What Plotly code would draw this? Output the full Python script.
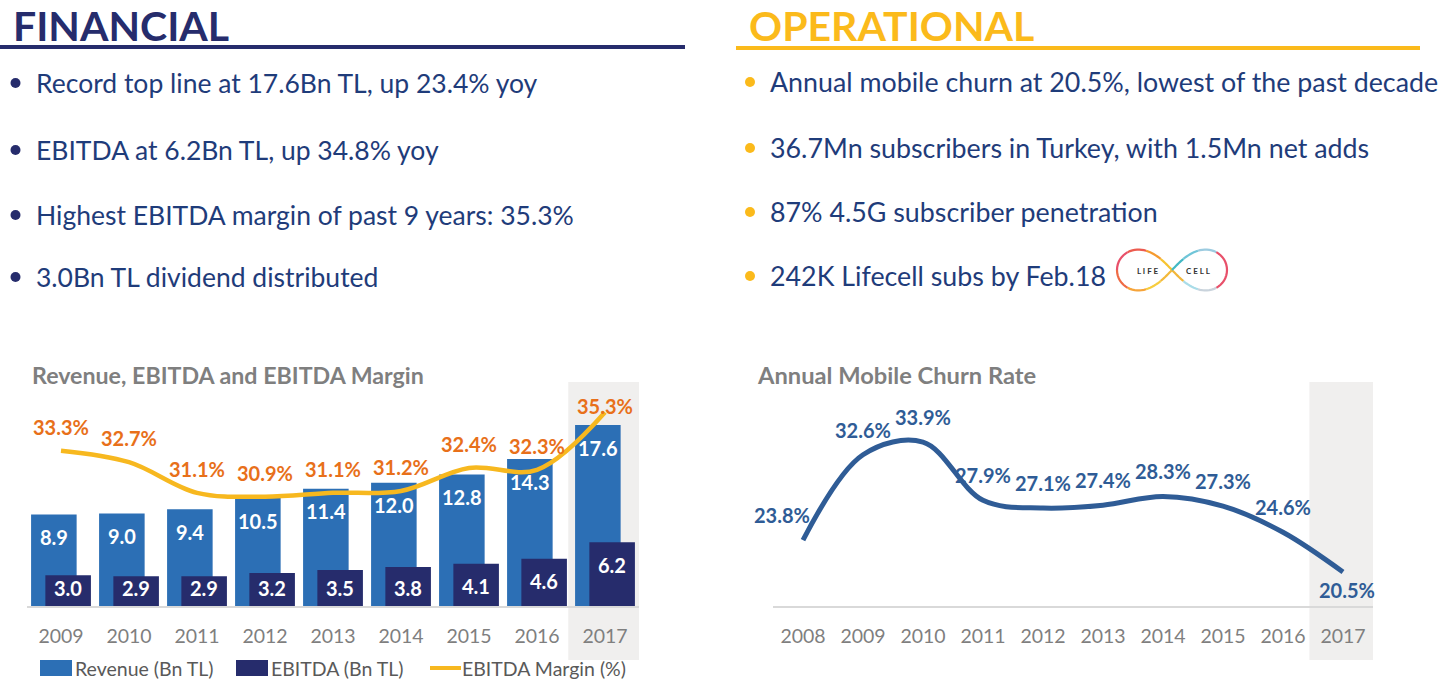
import math
import plotly.graph_objects as go

W, H = 1439, 682

# ---------------- data ----------------
fin_years = ["2009", "2010", "2011", "2012", "2013", "2014", "2015", "2016", "2017"]
revenue = [8.9, 9.0, 9.4, 10.5, 11.4, 12.0, 12.8, 14.3, 17.6]
ebitda = [3.0, 2.9, 2.9, 3.2, 3.5, 3.8, 4.1, 4.6, 6.2]
ebitda_margin = [33.3, 32.7, 31.1, 30.9, 31.1, 31.2, 32.4, 32.3, 35.3]

churn_years = ["2008", "2009", "2010", "2011", "2012", "2013", "2014", "2015", "2016", "2017"]
churn_rate = [23.8, 32.6, 33.9, 27.9, 27.1, 27.4, 28.3, 27.3, 24.6, 20.5]

fin_bullets = [
    "Record top line at 17.6Bn TL, up 23.4% yoy",
    "EBITDA at 6.2Bn TL, up 34.8% yoy",
    "Highest EBITDA margin of past 9 years: 35.3%",
    "3.0Bn TL dividend distributed",
]
ops_bullets = [
    "Annual mobile churn at 20.5%, lowest of the past decade",
    "36.7Mn subscribers in Turkey, with 1.5Mn net adds",
    "87% 4.5G subscriber penetration",
    "242K Lifecell subs by Feb.18",
]
legend_names = ["Revenue (Bn TL)", "EBITDA (Bn TL)", "EBITDA Margin (%)"]

# ---------------- styles ----------------
FONT = "Lato"
NAVY = "#262C6C"
TEXT_BLUE = "#1F3C7A"
GOLD = "#FBBA1B"
REV_C = "#2C6FB5"
EBITDA_C = "#262C6C"
MARGIN_C = "#F7B81F"
ORANGE = "#E8701A"
CHURN_C = "#2F5C96"
GRAY = "#7F7F7F"
HILITE = "#F0EFEE"


def px(x):
    return x / W


def py(y):
    return 1 - y / H


fig = go.Figure()

fig.add_trace(go.Bar(x=fin_years, y=revenue, width=0.67, offset=-0.44,
                     marker=dict(color=REV_C, line=dict(width=0)),
                     name=legend_names[0], xaxis="x", yaxis="y"))
fig.add_trace(go.Bar(x=fin_years, y=ebitda, width=0.67, offset=-0.23,
                     marker=dict(color=EBITDA_C, line=dict(width=0)),
                     name=legend_names[1], xaxis="x", yaxis="y"))
fig.add_trace(go.Scatter(x=fin_years, y=ebitda_margin, mode="lines",
                         line=dict(color=MARGIN_C, width=4.5, shape="spline", smoothing=1.0),
                         name=legend_names[2], xaxis="x", yaxis="y2"))
fig.add_trace(go.Scatter(x=churn_years, y=churn_rate, mode="lines",
                         line=dict(color=CHURN_C, width=5, shape="spline", smoothing=1.0),
                         name="Annual Mobile Churn Rate", xaxis="x2", yaxis="y3"))

annotations = []
shapes = []

# headers
annotations.append(dict(text="FINANCIAL", x=px(12), y=1, xref="paper", yref="paper",
                        xanchor="left", yanchor="top", showarrow=False, borderpad=0,
                        font=dict(family=FONT, size=41, color=NAVY, weight="bold")))
annotations.append(dict(text="OPERATIONAL", x=px(748), y=1, xref="paper", yref="paper",
                        xanchor="left", yanchor="top", showarrow=False, borderpad=0,
                        font=dict(family=FONT, size=41, color=GOLD, weight="bold")))
shapes.append(dict(type="line", xref="paper", yref="paper", x0=px(0), x1=px(685),
                   y0=py(47), y1=py(47), line=dict(color=NAVY, width=4)))
shapes.append(dict(type="line", xref="paper", yref="paper", x0=px(736), x1=px(1420),
                   y0=py(48), y1=py(48), line=dict(color=GOLD, width=4)))

# bullets
fin_bullet_y = [83, 150, 215, 277]
ops_bullet_y = [82, 148, 212, 276]
for txt, yy in zip(fin_bullets, fin_bullet_y):
    shapes.append(dict(type="circle", xref="paper", yref="paper",
                       x0=px(10.5), x1=px(20.5), y0=py(yy + 5), y1=py(yy - 5),
                       fillcolor=NAVY, line=dict(width=0)))
    annotations.append(dict(text=txt, x=px(34), y=py(yy), xref="paper", yref="paper",
                            xanchor="left", yanchor="middle", showarrow=False,
                            font=dict(family=FONT, size=26.5, color=TEXT_BLUE)))
for txt, yy in zip(ops_bullets, ops_bullet_y):
    shapes.append(dict(type="circle", xref="paper", yref="paper",
                       x0=px(745), x1=px(755), y0=py(yy + 5), y1=py(yy - 5),
                       fillcolor=GOLD, line=dict(width=0)))
    annotations.append(dict(text=txt, x=px(768), y=py(yy), xref="paper", yref="paper",
                            xanchor="left", yanchor="middle", showarrow=False,
                            font=dict(family=FONT, size=26.8, color=TEXT_BLUE)))

# lifecell logo (infinity loop)
cx, cy, a = 1172, 270, 55
logo_cols = ["#E8506A", "#C9D3DC", "#A9DCE8", "#F2B63A",
             "#F7C431", "#F59A2E", "#EC5B4F", "#E8506A",
             "#EF6B45", "#F6A43A", "#F7CD3E", "#F3B93A",
             "#43B9C4", "#6FC5D8", "#9CCBE0", "#E8506A"]
nseg = len(logo_cols)
for k, col in enumerate(logo_cols):
    pts = []
    for j in range(9):
        t = 2 * math.pi * (k + j / 8) / nseg
        d = 1 + math.sin(t) ** 2
        xx = cx + a * math.cos(t) / d
        yy = cy + 1.05 * a * math.sin(t) * math.cos(t) / d
        pts.append((px(xx), py(yy)))
    path = "M " + " L ".join(f"{p[0]:.5f},{p[1]:.5f}" for p in pts)
    shapes.append(dict(type="path", xref="paper", yref="paper", path=path,
                       line=dict(color=col, width=2.2)))
for txt, xx in [("L I F E", 1147), ("C E L L", 1198)]:
    annotations.append(dict(text=txt, x=px(xx), y=py(271), xref="paper", yref="paper",
                            xanchor="center", yanchor="middle", showarrow=False,
                            font=dict(family=FONT, size=8, color="#333333", weight="bold")))

# chart titles
annotations.append(dict(text="Revenue, EBITDA and EBITDA Margin", x=px(30), y=py(375),
                        xref="paper", yref="paper", xanchor="left", yanchor="middle",
                        showarrow=False, font=dict(family=FONT, size=23.2, color=GRAY, weight="bold")))
annotations.append(dict(text="Annual Mobile Churn Rate", x=px(755), y=py(375),
                        xref="paper", yref="paper", xanchor="left", yanchor="middle",
                        showarrow=False, font=dict(family=FONT, size=23.7, color=GRAY, weight="bold")))

# highlight of 2017
shapes.append(dict(type="rect", xref="x", yref="paper", x0=7.46, x1=8.5,
                   y0=py(660), y1=py(382), fillcolor=HILITE, line=dict(width=0), layer="below"))
shapes.append(dict(type="rect", xref="x2", yref="paper", x0=8.44, x1=9.62,
                   y0=py(660), y1=py(382), fillcolor=HILITE, line=dict(width=0), layer="below"))

LABEL_SIZE = 20
# bar labels (x given as category index)
for i, v in enumerate(revenue):
    annotations.append(dict(text=f"{v:.1f}", x=i, y=v - 2.2, xref="x", yref="y",
                            xshift=-7, showarrow=False,
                            font=dict(family=FONT, size=LABEL_SIZE, color="white", weight="bold")))
for i, v in enumerate(ebitda):
    annotations.append(dict(text=f"{v:.1f}", x=i, y=max(v - 2.2, 1.78), xref="x", yref="y",
                            xshift=7, showarrow=False,
                            font=dict(family=FONT, size=LABEL_SIZE, color="white", weight="bold")))
for i, m in enumerate(ebitda_margin):
    annotations.append(dict(text=f"{m:.1f}%", x=i, y=m, xref="x", yref="y2",
                            yshift=24 if i < len(ebitda_margin) - 1 else 6, showarrow=False,
                            font=dict(family=FONT, size=LABEL_SIZE, color=ORANGE, weight="bold")))
for i, c in enumerate(churn_rate):
    last = i == len(churn_rate) - 1
    annotations.append(dict(text=f"{c:.1f}%", x=i, y=c, xref="x2", yref="y3",
                            yshift=-18 if last else 25, xshift=-21 if i == 0 else (4 if last else 0),
                            showarrow=False,
                            font=dict(family=FONT, size=LABEL_SIZE, color=CHURN_C, weight="bold")))

# manual legend
shapes.append(dict(type="rect", xref="paper", yref="paper", x0=px(40), x1=px(72),
                   y0=py(676), y1=py(660), fillcolor=REV_C, line=dict(width=0)))
shapes.append(dict(type="rect", xref="paper", yref="paper", x0=px(236), x1=px(268),
                   y0=py(676), y1=py(660), fillcolor=EBITDA_C, line=dict(width=0)))
shapes.append(dict(type="line", xref="paper", yref="paper", x0=px(430), x1=px(461),
                   y0=py(668), y1=py(668), line=dict(color=MARGIN_C, width=4)))
for txt, xx in zip(legend_names, [73, 269, 460]):
    annotations.append(dict(text=txt, x=px(xx), y=py(668), xref="paper", yref="paper",
                            xanchor="left", yanchor="middle", showarrow=False,
                            font=dict(family=FONT, size=19.5, color="#595959")))

axis_common = dict(showgrid=False, zeroline=False, ticks="", showline=True,
                   linecolor="#D9D9D9", linewidth=2,
                   tickfont=dict(family=FONT, size=19.5, color=GRAY),
                   ticklabelstandoff=12, fixedrange=True)
hidden_y = dict(showgrid=False, zeroline=False, showline=False, showticklabels=False,
                ticks="", fixedrange=True)

fig.update_layout(
    width=W, height=H, margin=dict(l=0, r=0, t=0, b=0),
    paper_bgcolor="white", plot_bgcolor="rgba(0,0,0,0)",
    barmode="overlay", showlegend=False,
    xaxis=dict(domain=[px(27), px(639)], anchor="y", type="category",
               range=[-0.5, 8.5], **axis_common),
    yaxis=dict(domain=[py(606), py(382)], range=[0, 21.79], **hidden_y),
    yaxis2=dict(overlaying="y", range=[25.2, 36.88], **hidden_y),
    xaxis2=dict(domain=[px(773), px(1373)], anchor="y3", type="category",
                range=[-0.5, 9.5], **axis_common),
    yaxis3=dict(domain=[py(606), py(382)], range=[17.0, 40.1], anchor="x2", **hidden_y),
    annotations=annotations, shapes=shapes,
)

fig.write_html("out.html", config={"displayModeBar": False},
               post_script="document.body.style.margin='0px';document.body.style.overflow='hidden';")
